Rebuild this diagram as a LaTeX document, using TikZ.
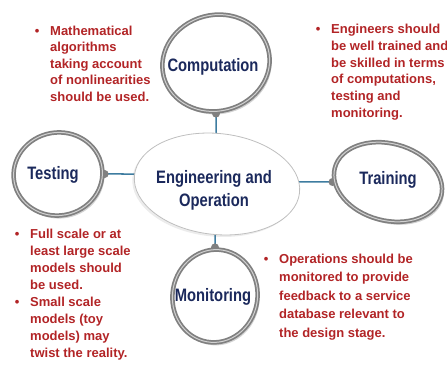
\documentclass[tikz,border=0pt]{standalone}
\usepackage{fontspec}
\setmainfont{Liberation Sans}
\newfontfamily\lensfont[FakeStretch=0.82]{Liberation Sans}
\usetikzlibrary{shapes.geometric,shadows,backgrounds}

\definecolor{navy}{RGB}{27,41,92}
\definecolor{notered}{RGB}{178,36,38}
\definecolor{linkblue}{RGB}{62,124,160}

\tikzset{
  lens/.style={ellipse, draw=black!50, line width=4.5pt, fill=white,
    postaction={draw=black!18, line width=1pt},
    drop shadow={shadow xshift=2pt, shadow yshift=-3pt, opacity=.35}},
  lenslabel/.style={text=navy, align=center, inner sep=0pt,
    font=\lensfont\bfseries\fontsize{18}{23}\selectfont},
  knob/.style={circle, fill=black!50, inner sep=0pt, minimum size=8pt},
  link/.style={draw=linkblue, line width=1.5pt},
  note/.style={anchor=north west, inner sep=0pt, text=notered}
}

\begin{document}
\begin{tikzpicture}[x=1pt, y=1pt]
    \useasboundingbox (0,0) rectangle (447,373);
    % centre ellipse
    \node[ellipse, draw=black!25, line width=.8pt, fill=white, rotate=-6,
      minimum width=166pt, minimum height=101pt,
      drop shadow={shadow xshift=-2pt, shadow yshift=-2pt, opacity=.15}]
      (core) at (217,189) {};
    \node[lenslabel] (coretext) at (214,183) {Engineering and\\Operation};
    % the four lenses
    \node[lens, minimum width=108pt, minimum height=96pt, rotate=15] (comp) at (216,310) {};
    \node[lens, minimum width=89pt, minimum height=83pt, rotate=10] (test) at (58,199) {};
    \node[lens, minimum width=110pt, minimum height=77pt, rotate=-15] (train) at (388,191) {};
    \node[lens, minimum width=85pt, minimum height=93pt, rotate=-10] (moni) at (215,77) {};
    \node[lenslabel] (comptext) at (213,306) {Computation};
    \node[lenslabel] (testtext) at (53,198) {Testing};
    \node[lenslabel] (traintext) at (388,193) {Training};
    \node[lenslabel] (monitext) at (213,76) {Monitoring};
    % links and knobs behind the lenses
    \begin{pgfonlayer}{background}
        \draw[link] (comp) -- (comp |- core) node[knob, pos=0] (compknob) {};
        \draw[link] (moni) -- (moni |- core) node[knob, pos=0] (moniknob) {};
        \draw[link] (test) -- (test -| core) node[knob, pos=0] (testknob) {};
        \draw[link] (train) -- (train -| core) node[knob, pos=0] (trainknob) {};
    \end{pgfonlayer}
    % notes
    \node[note, font=\bfseries\fontsize{13}{16.5}\selectfont] (compnote) at (34,349.5) {%
        \begin{tabular}{@{}p{16pt}@{}l@{}}
        \makebox[6pt]{•} & Mathematical\\
         & algorithms\\
         & taking account\\
         & of nonlinearities\\
         & should be used.
        \end{tabular}};
    \node[note, font=\bfseries\fontsize{13}{16.8}\selectfont] (trainnote) at (315,351.5) {%
        \begin{tabular}{@{}p{16pt}@{}l@{}}
        \makebox[6pt]{•} & Engineers should\\
         & be well trained and\\
         & be skilled in terms\\
         & of computations,\\
         & testing and\\
         & monitoring.
        \end{tabular}};
    \node[note, font=\bfseries\fontsize{13}{17}\selectfont] (testnote) at (14,147) {%
        \begin{tabular}{@{}p{16pt}@{}l@{}}
        \makebox[6pt]{•} & Full scale or at\\
         & least large scale\\
         & models should\\
         & be used.\\
        \makebox[6pt]{•} & Small scale\\
         & models (toy\\
         & models) may\\
         & twist the reality.
        \end{tabular}};
    \node[note, font=\bfseries\fontsize{13}{18.5}\selectfont] (moninote) at (263,123) {%
        \begin{tabular}{@{}p{16pt}@{}l@{}}
        \makebox[6pt]{•} & Operations should be\\
         & monitored to provide\\
         & feedback to a service\\
         & database relevant to\\
         & the design stage.
        \end{tabular}};
\end{tikzpicture}
\end{document}
